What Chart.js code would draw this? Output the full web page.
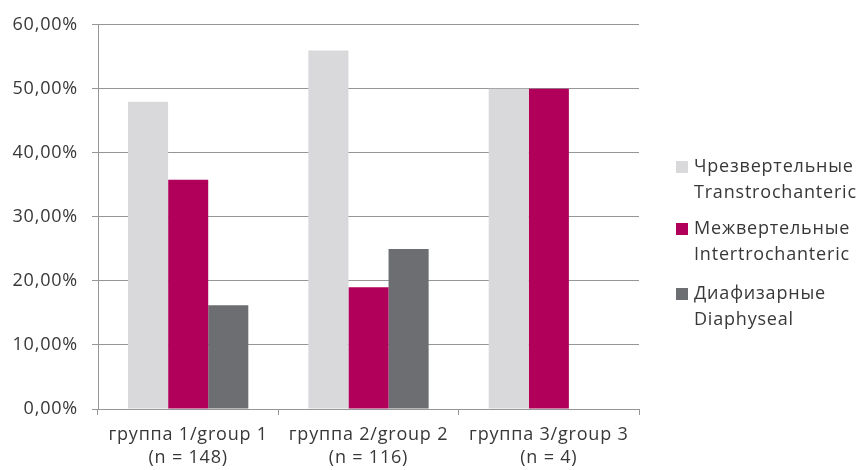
<!DOCTYPE html>
<html>
<head>
<meta charset="utf-8">
<script src="https://cdn.jsdelivr.net/npm/chart.js@4.4.1/dist/chart.umd.min.js"></script>
<style>
  html, body { margin: 0; padding: 0; background: #fff; }
  #wrap { width: 860px; height: 470px; position: relative; }
</style>
</head>
<body>
<div id="wrap"><canvas id="chart"></canvas></div>
<script>
var groups = [
    ['группа 1/group 1', '(n = 148)'],
    ['группа 2/group 2', '(n = 116)'],
    ['группа 3/group 3', '(n = 4)']
];
var seriesNames = [
    ['Чрезвертельные', 'Transtrochanteric'],
    ['Межвертельные', 'Intertrochanteric'],
    ['Диафизарные', 'Diaphyseal']
];
var transtrochanteric = [48.0, 56.0, 50.0];
var intertrochanteric = [35.8, 19.0, 50.0];
var diaphyseal = [16.2, 25.0, 0];
var colors = ['#d9d9db', '#b0005a', '#6d6e71'];

var textColor = '#383838';
var gridColor = '#969696';
var fontFamily = '"Open Sans", "Noto Sans", sans-serif';
var spacing = '0.8px';

// the source text is set a little wide, so widen the letters
var wideText = {
    id: 'wideText',
    beforeLayout: function (chart) { chart.ctx.letterSpacing = spacing; },
    beforeDraw: function (chart) { chart.ctx.letterSpacing = spacing; }
};

// legend drawn by hand so each entry can have two lines
var sideLegend = {
    id: 'sideLegend',
    afterDraw: function (chart) {
        var ctx = chart.ctx;
        var tops = [167, 229, 294];
        ctx.save();
        ctx.letterSpacing = spacing;
        ctx.font = '18px ' + fontFamily;
        ctx.textBaseline = 'middle';
        ctx.textAlign = 'left';
        chart.data.datasets.forEach(function (ds, i) {
            var y = tops[i];
            ctx.fillStyle = ds.backgroundColor;
            ctx.fillRect(676, y - 6, 12, 12);
            ctx.fillStyle = textColor;
            ds.label.forEach(function (line, j) {
                ctx.fillText(line, 694, y + j * 26);
            });
        });
        ctx.restore();
    }
};

var datasets = [transtrochanteric, intertrochanteric, diaphyseal].map(function (vals, i) {
    return {
        label: seriesNames[i],
        data: vals,
        backgroundColor: colors[i],
        borderWidth: 0,
        categoryPercentage: 0.667,
        barPercentage: 1
    };
});

new Chart(document.getElementById('chart'), {
    type: 'bar',
    data: { labels: groups, datasets: datasets },
    options: {
        responsive: true,
        maintainAspectRatio: false,
        animation: false,
        layout: { padding: { top: 23, right: 221, left: 0, bottom: 0 } },
        plugins: { legend: { display: false }, tooltip: { enabled: false } },
        scales: {
            x: {
                afterFit: function (s) { s.height = 61; },
                grid: { drawOnChartArea: false, drawTicks: true, tickLength: 6, color: gridColor, lineWidth: 1 },
                border: { display: true, color: gridColor, width: 1 },
                ticks: {
                    color: textColor,
                    padding: 8,
                    maxRotation: 0,
                    font: { family: fontFamily, size: 18, lineHeight: 1.3 }
                }
            },
            y: {
                min: 0,
                max: 60,
                afterFit: function (s) { s.width = 98; },
                grid: { color: gridColor, lineWidth: 1, drawTicks: true, tickLength: 6 },
                border: { display: true, color: gridColor, width: 1 },
                ticks: {
                    stepSize: 10,
                    color: textColor,
                    padding: 14,
                    font: { family: fontFamily, size: 18 },
                    callback: function (v) { return v.toFixed(2).replace('.', ',') + '%'; }
                }
            }
        }
    },
    plugins: [wideText, sideLegend]
});
</script>
</body>
</html>
